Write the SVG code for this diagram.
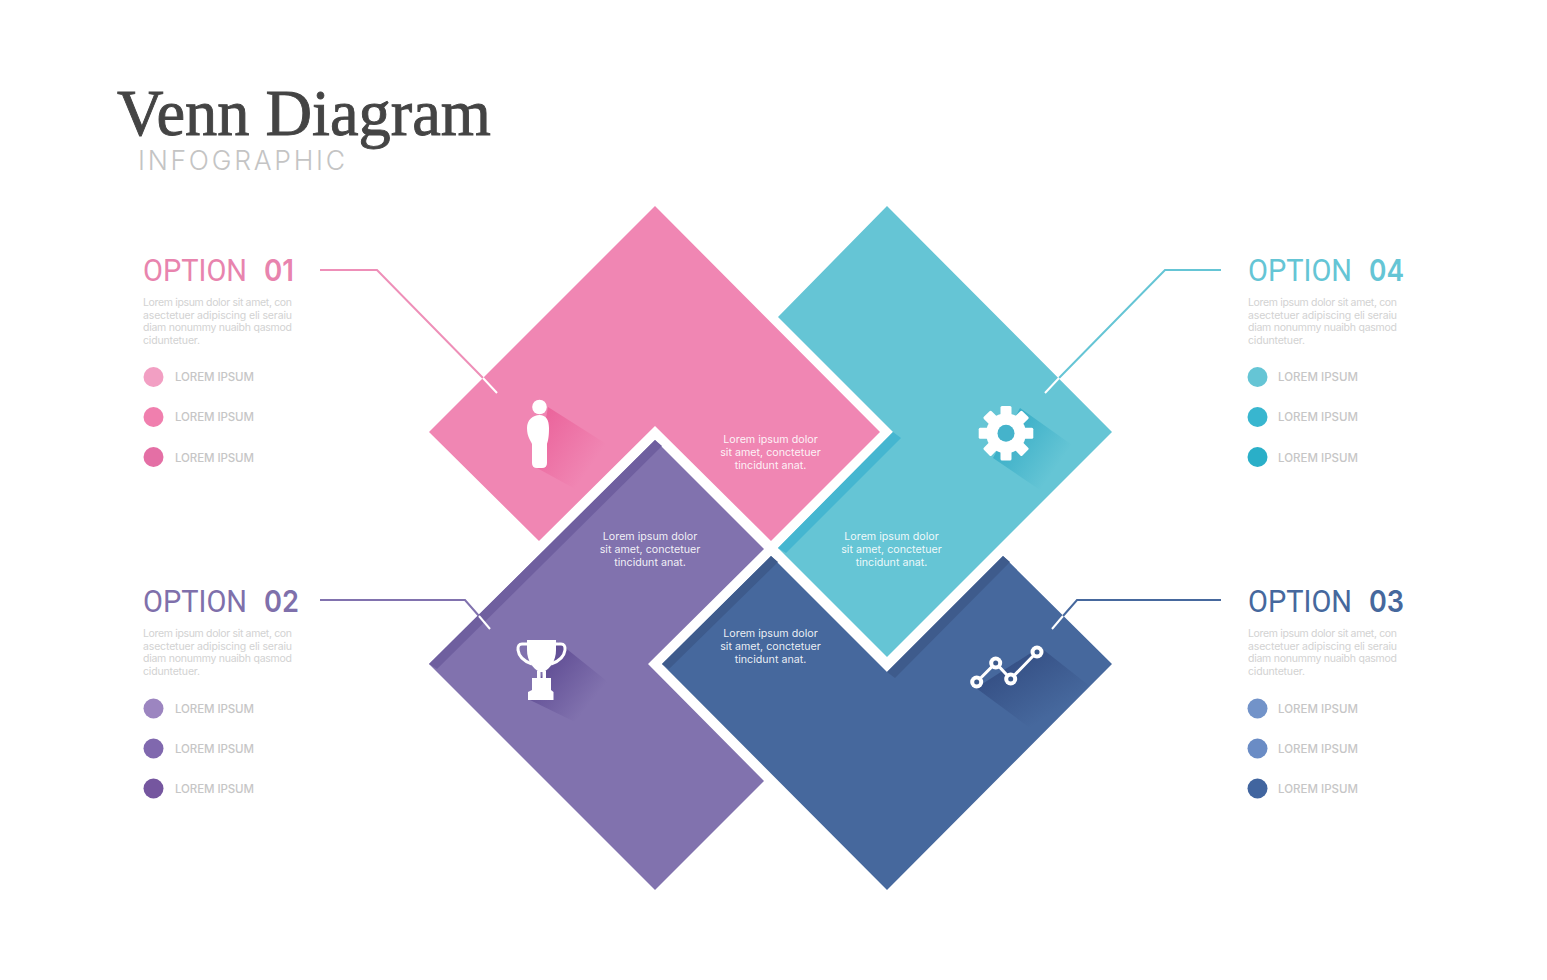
<svg xmlns="http://www.w3.org/2000/svg" width="1547" height="980" viewBox="0 0 1547 980">
<style>
.opt{font-family:Roboto,"Liberation Sans",sans-serif;font-size:32px;font-weight:400}
.num{font-family:Inter,"Liberation Sans",sans-serif;font-size:30px;font-weight:600}
.body{font-family:Inter,"Liberation Sans",sans-serif;font-size:10.5px;fill:#d2d2d2}
.li{font-family:Inter,"Liberation Sans",sans-serif;font-size:11.5px;font-weight:500;fill:#c6c6c6}
.ctr{font-family:Inter,"Liberation Sans",sans-serif;font-size:10.7px;fill:#fff;fill-opacity:.9;text-anchor:middle}
.line{fill:none;stroke-width:2}
.w{stroke:#fff;fill:none;stroke-width:2}
</style>
<defs>
<linearGradient id="sp" gradientUnits="userSpaceOnUse" x1="535" y1="430" x2="590" y2="468"><stop offset="0" stop-color="#ea5f98" stop-opacity=".85"/><stop offset="1" stop-color="#ea5f98" stop-opacity="0"/></linearGradient>
<linearGradient id="st" gradientUnits="userSpaceOnUse" x1="1006" y1="433" x2="1056" y2="468"><stop offset="0" stop-color="#36acc6" stop-opacity=".9"/><stop offset="1" stop-color="#36acc6" stop-opacity="0"/></linearGradient>
<linearGradient id="su" gradientUnits="userSpaceOnUse" x1="541" y1="668" x2="588" y2="706"><stop offset="0" stop-color="#5d4a92" stop-opacity=".9"/><stop offset="1" stop-color="#5d4a92" stop-opacity="0"/></linearGradient>
<linearGradient id="sn" gradientUnits="userSpaceOnUse" x1="1000" y1="670" x2="1035" y2="725"><stop offset="0" stop-color="#324b80" stop-opacity=".8"/><stop offset="1" stop-color="#324b80" stop-opacity="0"/></linearGradient>
<rect id="tooth" x="1000.500" y="406" width="11" height="12" rx="1.500" fill="#fff"/>
</defs>
<rect width="1547" height="980" fill="#fff"/>
<g id="title">
<text x="117" y="135" font-family="'Liberation Serif',serif" font-size="65" fill="#444" stroke="#444" stroke-width=".9" textLength="374" lengthAdjust="spacingAndGlyphs">Venn Diagram</text>
<text x="138" y="170" font-family="Inter,'Liberation Sans',sans-serif" font-size="26.500" font-weight="300" fill="#c4c4c4" textLength="207">INFOGRAPHIC</text>
</g>
<g id="shape-pink">
<polygon points="655,206 880,432 771,541 655,426 539,541 429,432" fill="#f086b3"/>
<polygon points="548,407 608,445 577,490 537,468" fill="url(#sp)"/>
<circle cx="539.500" cy="407" r="7.300" fill="#fff"/>
<path d="M539.500 415C546 415 549 420 549 428C549 437 548 441 547 444V463Q547 468 542 468H537Q532 468 532 463V444C531 441 527 437 527 428C527 420 533 415 539.500 415Z" fill="#fff"/>
<text class="ctr"><tspan x="770.500" y="443">Lorem ipsum dolor</tspan><tspan x="770.500" y="456">sit amet, conctetuer</tspan><tspan x="770.500" y="469">tincidunt anat.</tspan></text>
</g>
<g id="shape-teal">
<polygon points="887,206 1112,432 887,657 778,548 893,432 778,317" fill="#65c5d5"/>
<polygon points="893,432 901,438 786,553 778,548" fill="#45b6d0"/>
<polygon points="1020,408 1072,445 1040,490 993,458" fill="url(#st)"/>
<g id="gear"><use href="#tooth"/><use href="#tooth" transform="rotate(45 1006 433.300)"/><use href="#tooth" transform="rotate(90 1006 433.300)"/><use href="#tooth" transform="rotate(135 1006 433.300)"/><use href="#tooth" transform="rotate(180 1006 433.300)"/><use href="#tooth" transform="rotate(225 1006 433.300)"/><use href="#tooth" transform="rotate(270 1006 433.300)"/><use href="#tooth" transform="rotate(315 1006 433.300)"/>
<circle cx="1006" cy="433.300" r="20" fill="#fff"/>
<circle cx="1006" cy="433.300" r="8.500" fill="#45b3cb"/></g>
<text class="ctr"><tspan x="891.500" y="540">Lorem ipsum dolor</tspan><tspan x="891.500" y="553">sit amet, conctetuer</tspan><tspan x="891.500" y="566">tincidunt anat.</tspan></text>
</g>
<g id="shape-purple">
<polygon points="655,440 764,549 648,664 764,781 655,890 429,664" fill="#8172ae"/>
<polygon points="655,440 662,446 437,669 429,664" fill="#6f5f9f"/>
<polygon points="558,642 608,682 575,722 530,700" fill="url(#su)"/>
<path fill="#fff" d="M527 640H556V650C556 661 550 668 544 672H539C533 668 527 661 527 650Z"/>
<path d="M528 644H522Q517.500 644 518 650C519 658 526 662 532 664M555 644H561Q565.500 644 565 650C564 658 557 662 551 664" fill="none" stroke="#fff" stroke-width="3"/>
<rect x="537" y="671" width="3.500" height="9" fill="#fff"/><rect x="542.500" y="671" width="3.500" height="9" fill="#fff"/>
<path fill="#fff" d="M532 678H551V690L553.500 692V700H528V692L532 690Z"/>
<text class="ctr"><tspan x="650" y="540">Lorem ipsum dolor</tspan><tspan x="650" y="553">sit amet, conctetuer</tspan><tspan x="650" y="566">tincidunt anat.</tspan></text>
</g>
<g id="shape-navy">
<polygon points="662,664 771,556 887,672 1003,556 1112,664 887,890" fill="#46689d"/>
<polygon points="662,664 771,556 778,562 669,669" fill="#3e5b8c"/>
<polygon points="887,672 1003,556 1010,562 895,678" fill="#3e5b8c"/>
<polygon points="1040,647 1092,688 1030,728 976,688" fill="url(#sn)"/>
<polyline points="976.700,682 995.700,663 1010.700,679 1037,652" fill="none" stroke="#fff" stroke-width="3"/>
<g fill="#fff"><circle cx="976.700" cy="682" r="6.500"/><circle cx="995.700" cy="663" r="6.500"/><circle cx="1010.700" cy="679" r="6.500"/><circle cx="1037" cy="652" r="6.500"/></g>
<g fill="#3c5a8c"><circle cx="976.700" cy="682" r="2.500"/><circle cx="995.700" cy="663" r="2.500"/><circle cx="1010.700" cy="679" r="2.500"/><circle cx="1037" cy="652" r="2.500"/></g>
<text class="ctr"><tspan x="770.500" y="637">Lorem ipsum dolor</tspan><tspan x="770.500" y="650">sit amet, conctetuer</tspan><tspan x="770.500" y="663">tincidunt anat.</tspan></text>
</g>
<g id="connectors">
<polyline class="line" stroke="#ee8fb8" points="320,270 377,270 483,378"/><line class="w" x1="483" y1="378" x2="497" y2="393"/>
<polyline class="line" stroke="#65c5d5" points="1221,270 1165,270 1059,378"/><line class="w" x1="1059" y1="378" x2="1045" y2="393"/>
<polyline class="line" stroke="#8172ae" points="320,600 465,600 479,616"/><line class="w" x1="479" y1="616" x2="490" y2="629"/>
<polyline class="line" stroke="#46689d" points="1221,600 1077,600 1063,616"/><line class="w" x1="1063" y1="616" x2="1052" y2="629"/>
</g>
<g id="option-01">
<text class="opt" x="143" y="281" fill="#e884ae" textLength="104" lengthAdjust="spacingAndGlyphs">OPTION</text>
<text class="num" x="264" y="281" fill="#e884ae" textLength="30" lengthAdjust="spacingAndGlyphs">01</text>
<text class="body"><tspan x="143" y="306" textLength="149">Lorem ipsum dolor sit amet, con</tspan><tspan x="143" y="318.500" textLength="149">asectetuer adipiscing eli seraiu</tspan><tspan x="143" y="331" textLength="149">diam nonummy nuaibh qasmod</tspan><tspan x="143" y="343.500" textLength="57">ciduntetuer.</tspan></text>
<circle cx="153.500" cy="377" r="10" fill="#f29fc3"/><circle cx="153.500" cy="417" r="10" fill="#f07fae"/><circle cx="153.500" cy="457" r="10" fill="#e46fa5"/>
<text class="li" x="175" y="381" textLength="79">LOREM IPSUM</text><text class="li" x="175" y="421" textLength="79">LOREM IPSUM</text><text class="li" x="175" y="462" textLength="79">LOREM IPSUM</text>
</g>
<g id="option-02">
<text class="opt" x="143" y="612" fill="#7f70ab" textLength="104" lengthAdjust="spacingAndGlyphs">OPTION</text>
<text class="num" x="264" y="612" fill="#7f70ab" textLength="35" lengthAdjust="spacingAndGlyphs">02</text>
<text class="body"><tspan x="143" y="637" textLength="149">Lorem ipsum dolor sit amet, con</tspan><tspan x="143" y="649.500" textLength="149">asectetuer adipiscing eli seraiu</tspan><tspan x="143" y="662" textLength="149">diam nonummy nuaibh qasmod</tspan><tspan x="143" y="674.500" textLength="57">ciduntetuer.</tspan></text>
<circle cx="153.500" cy="708.500" r="10" fill="#9c85c0"/><circle cx="153.500" cy="748.500" r="10" fill="#8068ae"/><circle cx="153.500" cy="788.500" r="10" fill="#75569f"/>
<text class="li" x="175" y="713" textLength="79">LOREM IPSUM</text><text class="li" x="175" y="753" textLength="79">LOREM IPSUM</text><text class="li" x="175" y="793" textLength="79">LOREM IPSUM</text>
</g>
<g id="option-03">
<text class="opt" x="1248" y="612" fill="#46689d" textLength="104" lengthAdjust="spacingAndGlyphs">OPTION</text>
<text class="num" x="1369" y="612" fill="#46689d" textLength="35" lengthAdjust="spacingAndGlyphs">03</text>
<text class="body"><tspan x="1248" y="637" textLength="149">Lorem ipsum dolor sit amet, con</tspan><tspan x="1248" y="649.500" textLength="149">asectetuer adipiscing eli seraiu</tspan><tspan x="1248" y="662" textLength="149">diam nonummy nuaibh qasmod</tspan><tspan x="1248" y="674.500" textLength="57">ciduntetuer.</tspan></text>
<circle cx="1257.500" cy="708.500" r="10" fill="#7293c9"/><circle cx="1257.500" cy="748.500" r="10" fill="#6a8cc5"/><circle cx="1257.500" cy="788.500" r="10" fill="#41659f"/>
<text class="li" x="1278" y="713" textLength="80">LOREM IPSUM</text><text class="li" x="1278" y="753" textLength="80">LOREM IPSUM</text><text class="li" x="1278" y="793" textLength="80">LOREM IPSUM</text>
</g>
<g id="option-04">
<text class="opt" x="1248" y="281" fill="#65c5d5" textLength="104" lengthAdjust="spacingAndGlyphs">OPTION</text>
<text class="num" x="1369" y="281" fill="#65c5d5" textLength="35" lengthAdjust="spacingAndGlyphs">04</text>
<text class="body"><tspan x="1248" y="306" textLength="149">Lorem ipsum dolor sit amet, con</tspan><tspan x="1248" y="318.500" textLength="149">asectetuer adipiscing eli seraiu</tspan><tspan x="1248" y="331" textLength="149">diam nonummy nuaibh qasmod</tspan><tspan x="1248" y="343.500" textLength="57">ciduntetuer.</tspan></text>
<circle cx="1257.500" cy="377" r="10" fill="#65c5d5"/><circle cx="1257.500" cy="417" r="10" fill="#38b6cf"/><circle cx="1257.500" cy="457" r="10" fill="#2aafc8"/>
<text class="li" x="1278" y="381" textLength="80">LOREM IPSUM</text><text class="li" x="1278" y="421" textLength="80">LOREM IPSUM</text><text class="li" x="1278" y="462" textLength="80">LOREM IPSUM</text>
</g>
</svg>
